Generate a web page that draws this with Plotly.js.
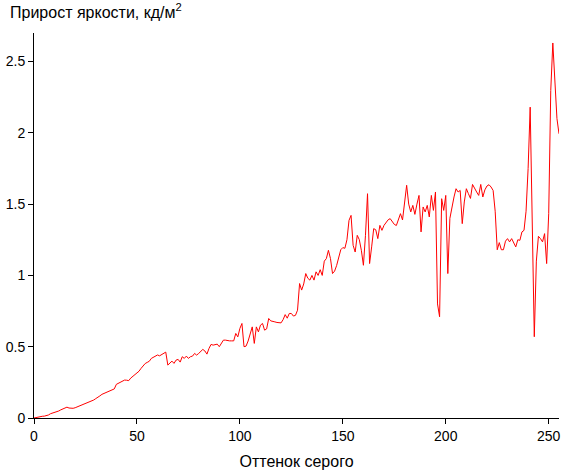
<!DOCTYPE html>
<html>
<head>
<meta charset="utf-8">
<script src="https://cdn.plot.ly/plotly-3.0.1.min.js"></script>
<style>
html,body{margin:0;padding:0;background:#fff;}
#chart{width:561px;height:471px;}
</style>
</head>
<body>
<div id="chart"></div>
<script>
// Brightness increment (cd/m^2) for each gray level 0..255
const brightness = [
  0.000, 0.004, 0.008, 0.012, 0.012, 0.013, 0.016, 0.021, 0.030, 0.035,
  0.036, 0.042, 0.049, 0.057, 0.064, 0.072, 0.076, 0.070, 0.068, 0.068,
  0.072, 0.078, 0.083, 0.090, 0.094, 0.100, 0.106, 0.113, 0.119, 0.126,
  0.136, 0.144, 0.155, 0.166, 0.172, 0.178, 0.183, 0.189, 0.196, 0.204,
  0.236, 0.243, 0.250, 0.256, 0.266, 0.265, 0.262, 0.280, 0.292, 0.306,
  0.318, 0.328, 0.348, 0.365, 0.382, 0.390, 0.398, 0.418, 0.428, 0.436,
  0.442, 0.436, 0.446, 0.453, 0.462, 0.371, 0.388, 0.399, 0.383, 0.406,
  0.411, 0.392, 0.430, 0.418, 0.434, 0.418, 0.430, 0.434, 0.453, 0.441,
  0.453, 0.465, 0.481, 0.470, 0.448, 0.488, 0.516, 0.511, 0.514, 0.518,
  0.500, 0.523, 0.546, 0.546, 0.541, 0.541, 0.541, 0.541, 0.593, 0.569,
  0.628, 0.663, 0.500, 0.504, 0.540, 0.600, 0.639, 0.523, 0.639, 0.604,
  0.651, 0.663, 0.616, 0.625, 0.698, 0.681, 0.680, 0.674, 0.670, 0.667,
  0.667, 0.690, 0.725, 0.700, 0.733, 0.733, 0.715, 0.720, 0.756, 0.943,
  0.897, 0.940, 1.013, 0.980, 0.967, 1.000, 0.967, 1.025, 1.000, 1.040,
  1.000, 1.100, 1.118, 1.176, 1.118, 1.013, 1.030, 1.070, 1.120, 1.180,
  1.195, 1.190, 1.250, 1.386, 1.421, 1.211, 1.164, 1.281, 1.251, 1.176,
  1.071, 1.281, 1.573, 1.083, 1.200, 1.328, 1.320, 1.258, 1.351, 1.316,
  1.351, 1.375, 1.390, 1.398, 1.380, 1.358, 1.350, 1.391, 1.433, 1.389,
  1.500, 1.632, 1.500, 1.445, 1.491, 1.428, 1.500, 1.561, 1.305, 1.480,
  1.445, 1.491, 1.410, 1.561, 1.456, 1.585, 0.800, 0.710, 1.538, 1.456,
  1.561, 1.013, 1.400, 1.491, 1.550, 1.608, 1.585, 1.596, 1.363, 1.515,
  1.608, 1.573, 1.540, 1.638, 1.608, 1.585, 1.561, 1.638, 1.550, 1.600,
  1.627, 1.636, 1.620, 1.596, 1.450, 1.180, 1.230, 1.180, 1.180, 1.240,
  1.258, 1.235, 1.258, 1.223, 1.200, 1.250, 1.246, 1.305, 1.316, 1.450,
  1.750, 2.180, 1.400, 0.570, 1.100, 1.274, 1.258, 1.235, 1.293, 1.083,
  1.433, 2.297, 2.630, 2.390, 2.100, 1.993
];
// Gray level index of each value
const grayLevels = brightness.map((_, i) => i);

const xTickVals = [0, 50, 100, 150, 200, 250];
const yTickVals = [0, 0.5, 1, 1.5, 2, 2.5];
const yTickText = ['0', '0.5', '1', '1.5', '2', '2.5'];

const titleText = 'Прирост яркости, кд/м<sup>2</sup>';
const xTitleText = 'Оттенок серого';

const fontFamily = '"Liberation Sans", Arial, sans-serif';

const trace = {
  x: grayLevels,
  y: brightness,
  type: 'scatter',
  mode: 'lines',
  line: {color: '#ff0000', width: 1},
  hoverinfo: 'x+y'
};

const layout = {
  width: 561,
  height: 471,
  margin: {l: 34, r: 2, t: 33, b: 53},
  paper_bgcolor: '#ffffff',
  plot_bgcolor: '#ffffff',
  showlegend: false,
  font: {family: fontFamily, size: 14, color: '#000'},
  title: {
    text: titleText,
    font: {family: fontFamily, size: 16, color: '#000'},
    x: 10 / 561, xanchor: 'left', xref: 'container',
    y: 1 - 12 / 471, yanchor: 'middle', yref: 'container'
  },
  xaxis: {
    range: [0, 255],
    tickmode: 'array',
    tickvals: xTickVals,
    ticks: 'outside',
    ticklen: 5,
    tickcolor: '#000',
    showline: true,
    linecolor: '#000',
    linewidth: 1,
    showgrid: false,
    zeroline: false,
    tickfont: {family: fontFamily, size: 14, color: '#000'},
    title: {text: xTitleText, font: {family: fontFamily, size: 16, color: '#000'}, standoff: 13}
  },
  yaxis: {
    range: [0, 2.7],
    tickmode: 'array',
    tickvals: yTickVals,
    ticktext: yTickText,
    ticks: 'outside',
    ticklen: 5,
    tickcolor: '#000',
    showline: true,
    linecolor: '#000',
    linewidth: 1,
    showgrid: false,
    zeroline: false,
    tickfont: {family: fontFamily, size: 14, color: '#000'}
  }
};

Plotly.newPlot('chart', [trace], layout, {staticPlot: true, displayModeBar: false});
</script>
</body>
</html>
